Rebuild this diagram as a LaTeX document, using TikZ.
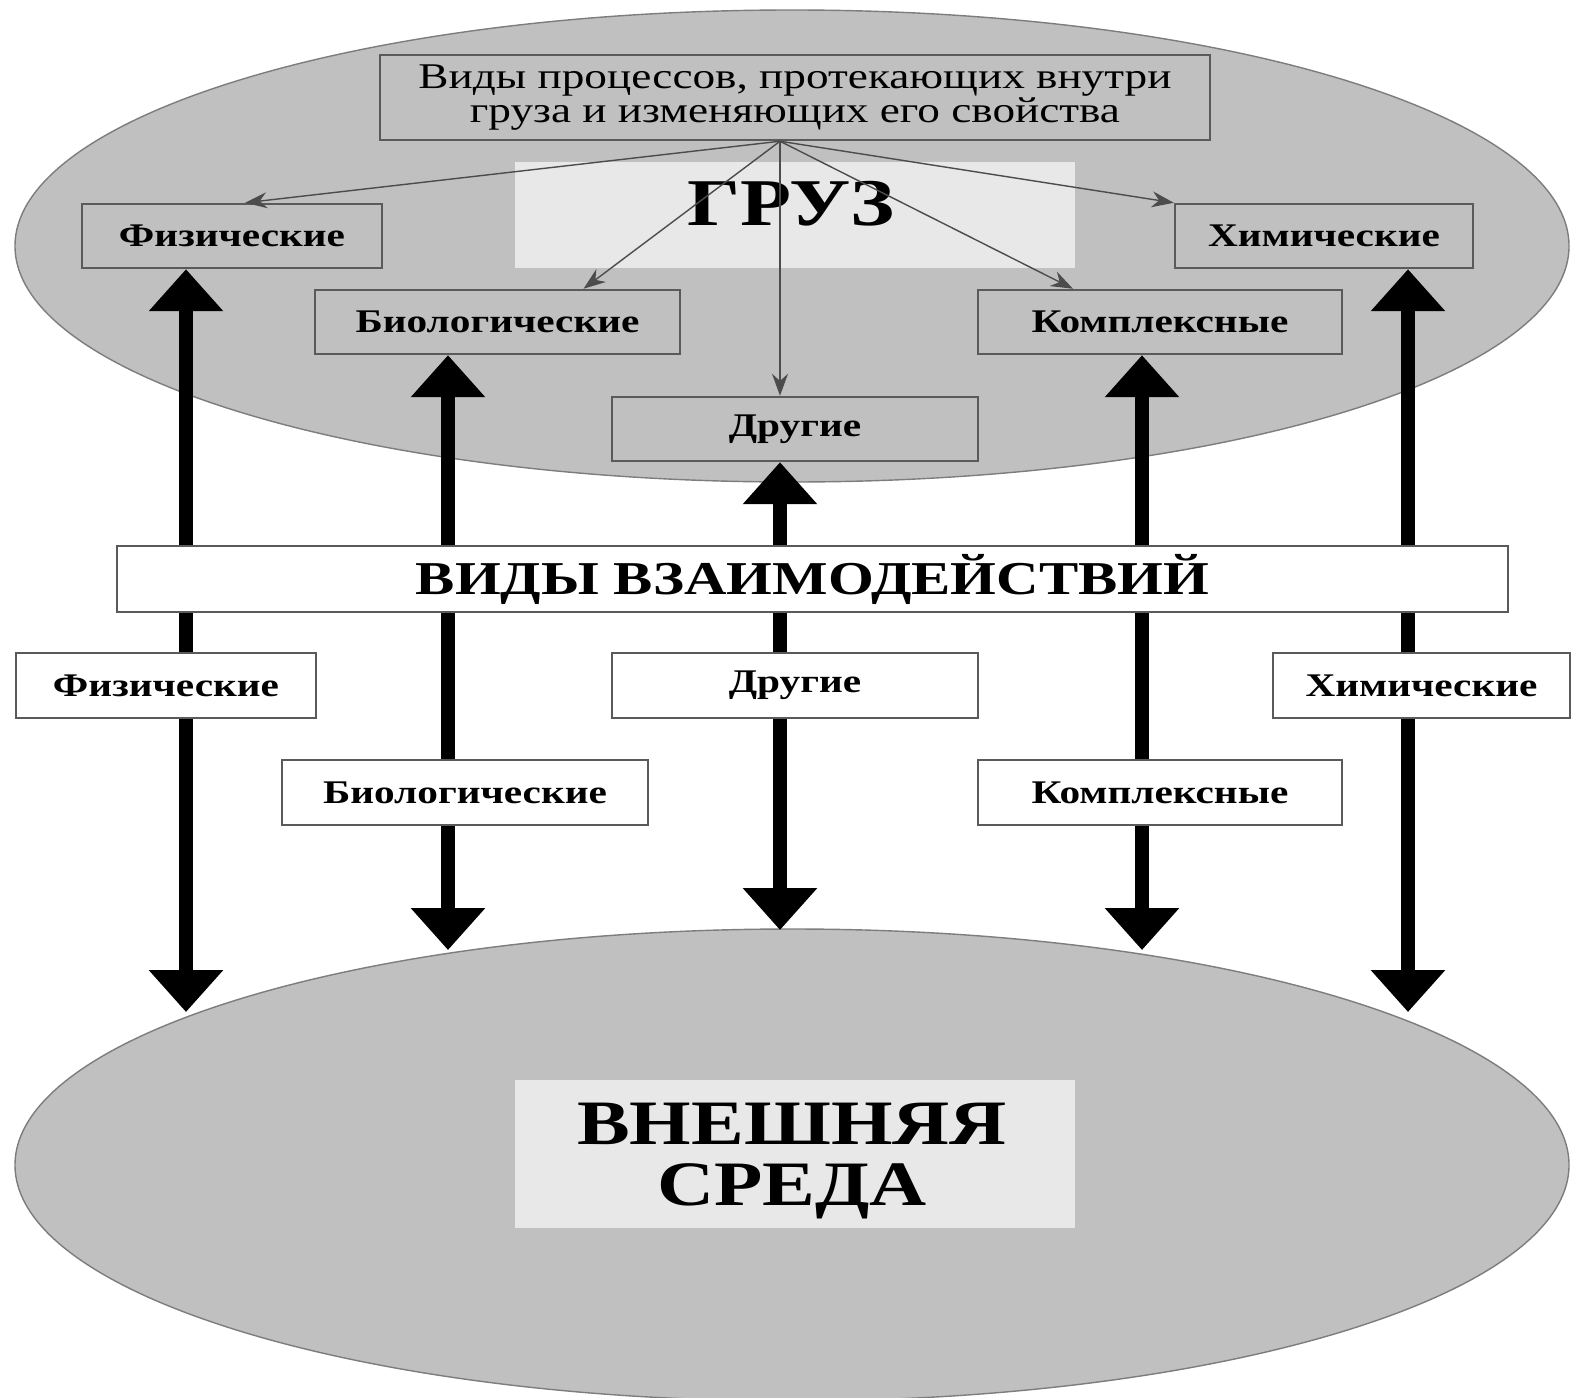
\documentclass[tikz,border=0pt]{standalone}
\usepackage{fontspec}
\setmainfont{Liberation Serif}[FakeStretch=1.25]
\usetikzlibrary{arrows.meta,shapes.geometric}
\definecolor{shell}{RGB}{192,192,192}
\definecolor{rim}{RGB}{125,125,125}
\definecolor{edge}{RGB}{90,90,90}
\definecolor{pale}{RGB}{232,232,232}
\tikzset{
  >={Stealth[length=2.2mm,width=1.6mm]},
  zone/.style={ellipse,draw=rim,fill=shell,thin,minimum width=15.54cm,
    minimum height=4.72cm,inner sep=0pt},
  patch/.style={fill=pale,inner sep=0pt},
  kind/.style={draw=edge,fill=#1,line width=0.7pt,minimum height=6.4mm,
    minimum width=30mm,inner sep=0pt,
    font=\fontsize{9.4}{11}\selectfont\bfseries},
  kind/.default=shell,
  thread/.style={->,thin,draw=black!70},
  link/.style={{Triangle[width=7.2mm,length=4.2mm]}-{Triangle[width=7.2mm,length=4.2mm]},
    line width=1.4mm},
}

\begin{document}
\begin{tikzpicture}
  \useasboundingbox (0,0) rectangle (15.76,-13.97);
  % the two areas
  \node[zone] (cargo) at (7.92,-2.46) {};
  \node[zone] (env) at (7.92,-11.65) {};
  \node[patch,minimum width=5.6cm,minimum height=1.06cm] (cargoBg) at (7.95,-2.15) {};
  \node[font=\fontsize{19}{19}\selectfont\bfseries] (cargoT) at (7.91,-2.04) {ГРУЗ};
  \node[patch,minimum width=5.6cm,minimum height=1.48cm] (envBg) at (7.95,-11.54) {};
  \node[align=center,font=\fontsize{18}{17.5}\selectfont\bfseries] (envT)
    at (7.92,-11.61) {ВНЕШНЯЯ\\СРЕДА};

  % processes inside the cargo
  \node[kind,minimum width=8.3cm,minimum height=8.5mm,align=center,
    font=\fontsize{10.3}{9.6}\selectfont] (proc) at (7.95,-0.975)
    {Виды процессов, протекающих внутри\\груза и изменяющих его свойства};
  \node[kind] (fizA) at (2.32,-2.36) {Физические};
  \node[kind,minimum width=2.98cm] (himA) at (13.24,-2.36) {Химические};
  \node[kind,minimum width=3.65cm] (bioA) at (4.975,-3.22) {Биологические};
  \node[kind,minimum width=3.64cm] (komA) at (11.60,-3.22) {Комплексные};
  \node[kind,minimum width=3.66cm] (druA) at (7.95,-4.29) {Другие};

  \coordinate (hub) at ([xshift=-1.5mm]proc.south);
  \draw[thread] (hub) -- ([xshift=1.3mm]fizA.north);
  \draw[thread] (hub) -- ([xshift=8.6mm]bioA.north);
  \draw[thread] (hub) -- (hub |- druA.north);
  \draw[thread] (hub) -- ([xshift=-8.7mm]komA.north);
  \draw[thread] (hub) -- (himA.north west);

  % interactions with the environment
  \coordinate (e1) at (1.86,-10.12);
  \coordinate (e2) at (4.48,-9.50);
  \coordinate (e3) at (7.80,-9.30);
  \coordinate (e4) at (11.42,-9.50);
  \coordinate (e5) at (14.08,-10.12);
  \draw[link] (e1 |- fizA.south) -- (e1);
  \draw[link] (e2 |- bioA.south) -- (e2);
  \draw[link] (e3 |- druA.south) -- (e3);
  \draw[link] (e4 |- komA.south) -- (e4);
  \draw[link] (e5 |- himA.south) -- (e5);

  \node[kind=white,minimum width=13.91cm,minimum height=6.6mm,
    font=\fontsize{13.4}{14}\selectfont\bfseries] (vidy) at (8.125,-5.79) {ВИДЫ ВЗАИМОДЕЙСТВИЙ};
  \node[kind=white,minimum height=6.5mm] (fizB) at (1.66,-6.855) {Физические};
  \node[kind=white,minimum width=3.66cm,minimum height=6.5mm] (druB) at (7.95,-6.855) {Другие};
  \node[kind=white,minimum width=2.97cm,minimum height=6.5mm] (himB) at (14.215,-6.855) {Химические};
  \node[kind=white,minimum width=3.66cm,minimum height=6.5mm] (bioB) at (4.65,-7.925) {Биологические};
  \node[kind=white,minimum width=3.64cm,minimum height=6.5mm] (komB) at (11.60,-7.925) {Комплексные};
\end{tikzpicture}
\end{document}
